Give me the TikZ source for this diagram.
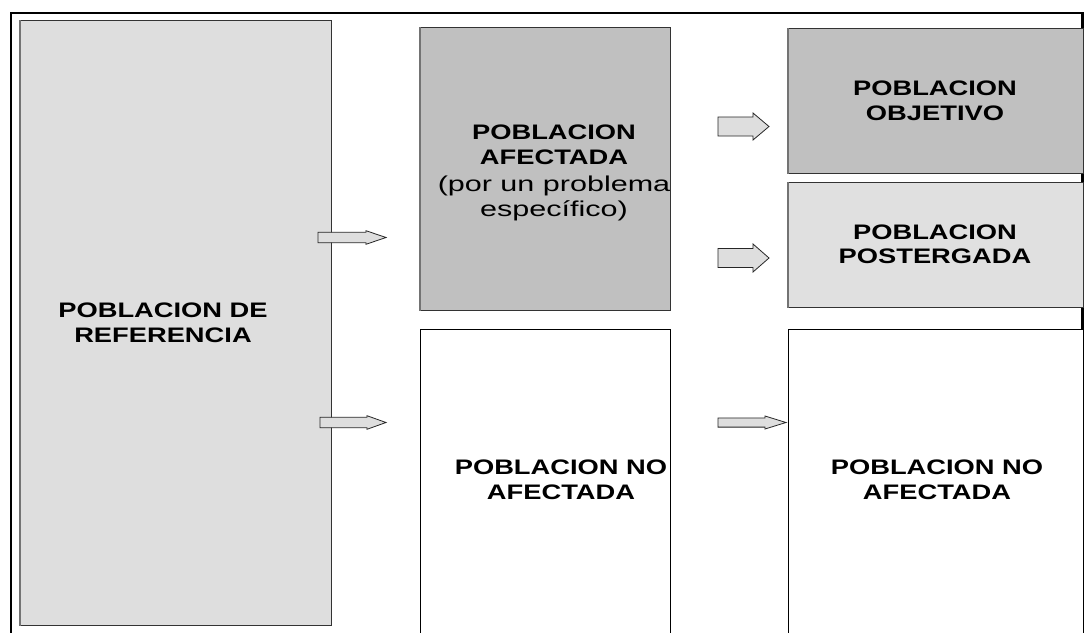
\documentclass[tikz,border=0pt]{standalone}
\usepackage{fontspec}
\setmainfont{Liberation Sans}
\newfontfamily\lblfont[FakeStretch=1.3]{Liberation Sans}
\newfontfamily\subfont[FakeStretch=1.42]{Liberation Sans}
\definecolor{refgray}{HTML}{DEDEDE}
\definecolor{darkfill}{HTML}{C0C0C0}
\definecolor{lightfill}{HTML}{E0E0E0}
\definecolor{edgegray}{HTML}{333333}
\tikzset{
  box/.style={draw=edgegray, line width=1.2pt, anchor=north west, inner sep=0pt},
  sidebox/.style={draw=black, line width=1.2pt, anchor=north west, inner sep=0pt, fill=white},
  lbl/.style={align=center, inner sep=0pt, font=\lblfont\fontsize{21}{24.5}\selectfont\bfseries},
  blockarrow/.style={draw=black!85, line width=0.8pt, fill=refgray, line join=miter}
}
% #1 left x, #2 head start x, #3 tip x, #4 centre y, #5 shaft half, #6 head half
\newcommand{\barrow}[6]{%
  \draw[blockarrow] (#1,#4-#5) -- (#2,#4-#5) -- (#2,#4-#6) -- (#3,#4) -- (#2,#4+#6) -- (#2,#4+#5) -- (#1,#4+#5) -- cycle;}
\begin{document}
\begin{tikzpicture}[x=1pt,y=-1pt]
\useasboundingbox (0,0) rectangle (1084,632);
\clip (0,0) rectangle (1084,632);
\fill[white] (0,0) rectangle (1084,632);
% outer frame
\draw[line width=2.6pt, black] (11,13) rectangle (1082.5,660);
% boxes
\node[box, fill=refgray, minimum width=311, minimum height=605] (ref) at (20,20) {};
\node[box, fill=darkfill, minimum width=250, minimum height=283] (afec) at (420,27) {};
\node[box, fill=darkfill, minimum width=294.5, minimum height=145] (obj) at (788,28) {};
\node[box, fill=lightfill, minimum width=294.5, minimum height=125] (post) at (788,182) {};
\node[sidebox, minimum width=250, minimum height=320] (noaf1) at (420,329) {};
\node[sidebox, minimum width=294.5, minimum height=320] (noaf2) at (788,329) {};
% lighter left edges of the shaded boxes
\draw[line width=1.6pt, black!55] (ref.north west) -- (ref.south west);
\draw[line width=1.6pt, black!55] (afec.north west) -- (afec.south west);
\draw[line width=1.6pt, black!55] (obj.north west) -- (obj.south west);
\draw[line width=1.6pt, black!55] (post.north west) -- (post.south west);
% texts
\node[lbl] (reft) at (163,323) {POBLACION DE\\REFERENCIA};
\node[lbl] (afect) at (554,173) {POBLACION\\AFECTADA\\[3pt]{\subfont\mdseries\fontsize{21.5}{24.5}\selectfont (por un problema}\\{\subfont\mdseries\fontsize{21.5}{24.5}\selectfont específico)}};
\node[lbl] (objt) at (935,101) {POBLACION\\OBJETIVO};
\node[lbl] (postt) at (935,244.5) {POBLACION\\POSTERGADA};
\node[lbl] (noaf1t) at (561,480) {POBLACION NO\\AFECTADA};
\node[lbl] (noaf2t) at (937,480) {POBLACION NO\\AFECTADA};
% block arrows
\barrow{318}{366}{386}{237.5}{5.2}{6.8}
\barrow{320}{367}{386}{422.5}{5.2}{6.8}
\barrow{718}{753}{769}{126.5}{9.5}{13.5}
\barrow{718}{753}{769}{258}{9.5}{14}
\barrow{718}{765}{786}{422.5}{4.6}{6.5}
\end{tikzpicture}
\end{document}
